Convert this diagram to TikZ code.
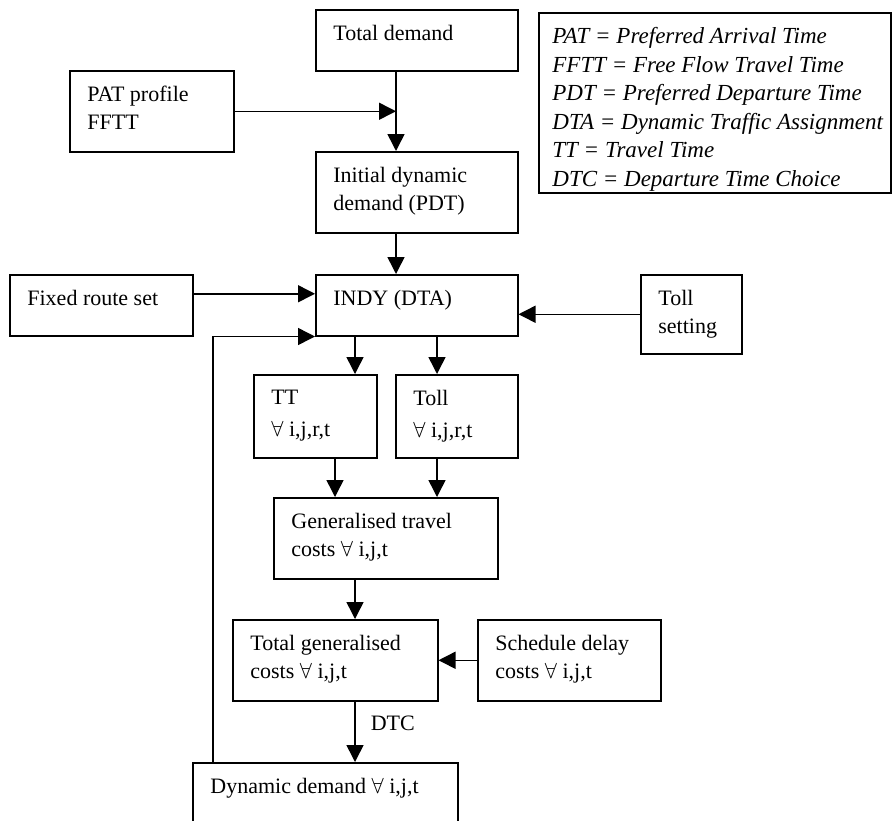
\documentclass[tikz,border=0pt]{standalone}
\usepackage{fontspec}
\setmainfont{Liberation Serif}
\usetikzlibrary{arrows.meta}
\tikzset{
  box/.style = {draw, line width=0.75pt, anchor=north west, inner sep=0pt},
  boxtext/.style = {anchor=north west, align=left, inner sep=0pt,
    xshift=9pt, yshift=-8pt, font=\fontsize{11}{14}\selectfont},
  keytext/.style = {anchor=north west, align=left, inner sep=0pt,
    xshift=7pt, yshift=-7.5pt, font=\fontsize{11.5}{14.25}\selectfont\itshape},
  arr/.style = {-{Triangle[length=8.5pt, width=8.5pt]}, line width=0.75pt}
}

\begin{document}
\begin{tikzpicture}[x=0.5pt, y=-0.5pt]
  \useasboundingbox (0,0) rectangle (893,820);
  \clip (0,0) rectangle (893,820);

  % Columns of the vertical arrows
  \coordinate (colA) at (355,0);
  \coordinate (colB) at (437,0);
  \coordinate (colC) at (335,0);
  \coordinate (colD) at (396,0);
  \coordinate (fb) at (213,0);

  % Demand
  \node[box, minimum width=101pt, minimum height=30.5pt] (totdem) at (315,9) {};
  \node[boxtext] (totdem-t) at (totdem.north west) {Total demand};
  \node[box, minimum width=82pt, minimum height=40.5pt] (patpro) at (69,70) {};
  \node[boxtext] (patpro-t) at (patpro.north west) {PAT profile\\FFTT};
  \node[box, minimum width=101pt, minimum height=40.5pt] (initdem) at (315,151) {};
  \node[boxtext] (initdem-t) at (initdem.north west) {Initial dynamic\\demand (PDT)};

  % Assignment
  \node[box, minimum width=91.5pt, minimum height=30.5pt] (fixroute) at (9,274) {};
  \node[boxtext] (fixroute-t) at (fixroute.north west) {Fixed route set};
  \node[box, minimum width=101pt, minimum height=30.5pt] (indy) at (315,274) {};
  \node[boxtext] (indy-t) at (indy.north west) {INDY (DTA)};
  \node[box, minimum width=50.5pt, minimum height=39.5pt] (tollset) at (640,274) {};
  \node[boxtext] (tollset-t) at (tollset.north west) {Toll\\setting};

  % Costs
  \node[box, minimum width=61.5pt, minimum height=41.5pt] (tt) at (253,374) {};
  \node[boxtext] (tt-t) at (tt.north west) {TT\\[2pt]$\forall$ i,j,r,t};
  \node[box, minimum width=61pt, minimum height=41.5pt] (toll) at (395,374) {};
  \node[boxtext] (toll-t) at (toll.north west) {Toll\\[2pt]$\forall$ i,j,r,t};
  \node[box, minimum width=112pt, minimum height=40.5pt] (gencost) at (273,497) {};
  \node[boxtext] (gencost-t) at (gencost.north west) {Generalised travel\\costs $\forall$ i,j,t};
  \node[box, minimum width=102.5pt, minimum height=40.5pt] (totcost) at (232,619) {};
  \node[boxtext] (totcost-t) at (totcost.north west) {Total generalised\\costs $\forall$ i,j,t};
  \node[box, minimum width=91.5pt, minimum height=40.5pt] (sched) at (477,619) {};
  \node[boxtext] (sched-t) at (sched.north west) {Schedule delay\\costs $\forall$ i,j,t};
  \node[box, minimum width=132.5pt, minimum height=40pt] (dyndem) at (192,762) {};
  \node[boxtext] (dyndem-t) at (dyndem.north west) {Dynamic demand $\forall$ i,j,t};

  % Key
  \node[box, minimum width=176pt, minimum height=90pt] (key) at (538,12) {};
  \node[keytext] (key-t) at (key.north west) {PAT = Preferred Arrival Time\\
    FFTT = Free Flow Travel Time\\
    PDT = Preferred Departure Time\\
    DTA = Dynamic Traffic Assignment\\
    TT = Travel Time\\
    DTC = Departure Time Choice};

  % Arrows
  \draw[arr] (totdem.south -| colD) -- (initdem.north -| colD);
  \draw[arr] (patpro.east) -- (patpro.east -| colD);
  \draw[arr] (initdem.south -| colD) -- (indy.north -| colD);
  \draw[arr] ([yshift=5.75pt]fixroute.east) -- ([yshift=5.75pt]fixroute.east -| indy.west);
  \draw[arr] (dyndem.north -| fb) |- (indy.south west);
  \draw[arr] (tollset.west) -- (tollset.west -| indy.east);
  \draw[arr] (indy.south -| colA) -- (tt.north -| colA);
  \draw[arr] (indy.south -| colB) -- (toll.north -| colB);
  \draw[arr] (tt.south -| colC) -- (gencost.north -| colC);
  \draw[arr] (toll.south -| colB) -- (gencost.north -| colB);
  \draw[arr] (gencost.south -| colA) -- (totcost.north -| colA);
  \draw[arr] (sched.west) -- (sched.west -| totcost.east);
  \draw[arr] (totcost.south -| colA) -- node[anchor=west, inner sep=0pt, xshift=7.5pt, pos=0.36,
    font=\fontsize{11}{14}\selectfont] (dtc) {DTC} (dyndem.north -| colA);

\end{tikzpicture}
\end{document}
